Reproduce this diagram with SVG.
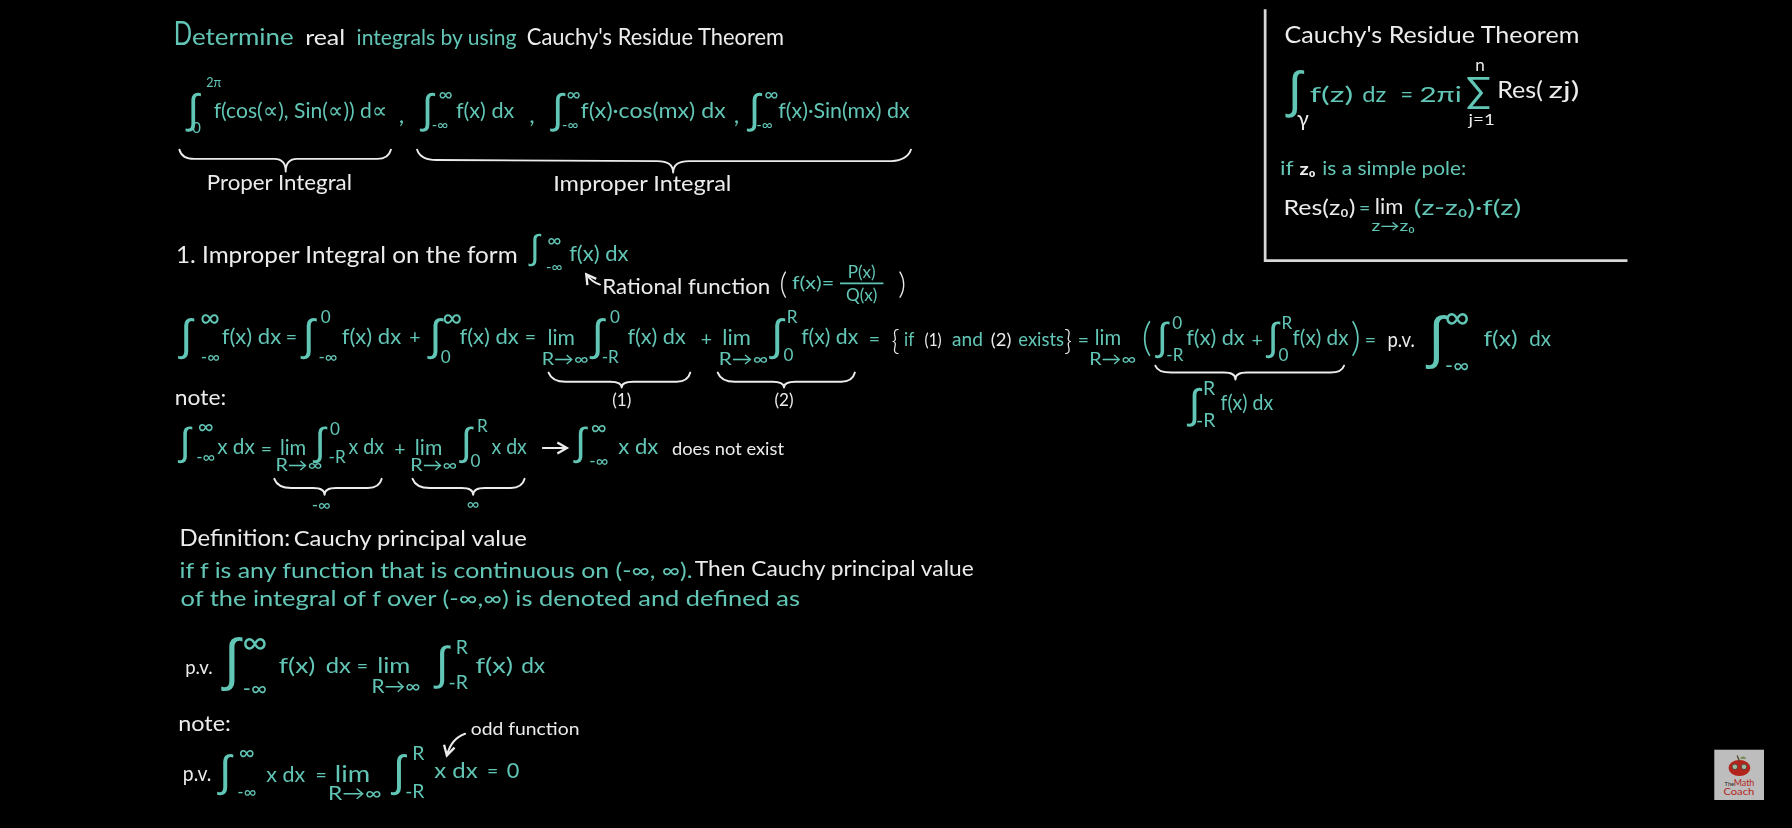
<svg xmlns="http://www.w3.org/2000/svg" width="1792" height="828" viewBox="0 0 1792 828">
<style>
text{font-family:"Lato","Liberation Sans",sans-serif;}
.t{fill:#62c6b6}.w{fill:#ececec}
.i{font-family:"Liberation Sans",sans-serif;text-anchor:middle;fill:#62c6b6}
.m{text-anchor:middle}
.z11{font-size:11px}.z13{font-size:13px}.z15{font-size:15px}.z17{font-size:17px}.z19{font-size:19px}.z21{font-size:21px}.z24{font-size:24px}
.b{fill:none;stroke:#ececec;stroke-width:1.7;stroke-linecap:round;stroke-linejoin:round}
</style>
<defs>
<filter id="soft" x="0" y="0" width="1" height="1"><feGaussianBlur stdDeviation="0.45"/></filter>
<marker id="ah" viewBox="0 0 10 10" refX="8" refY="5" markerWidth="7" markerHeight="7" orient="auto-start-reverse"><path d="M1 1L8 5L1 9" fill="none" stroke="#ececec" stroke-width="1.7"/></marker>
</defs>
<rect width="1792" height="828" fill="#000"/>
<g transform="scale(1.142857)" filter="url(#soft)">
<g id="connectors">
<path class="b" d="M157 131Q159 139 170 139L240 139Q250 139 250 150Q250 139 260 139L330 139Q340 139 342 131"/>
<path class="b" d="M365 131Q368 140 382 140L575 141Q589 141 589 151Q589 141 603 141L780 141Q794 140 797 131"/>
<path class="b" d="M480 326Q483 334 495 334L534 334Q544 334 544 339Q544 334 554 334L592 334Q602 334 604 326"/>
<path class="b" d="M628 326Q631 334 643 334L676 334Q686 334 686 339Q686 334 696 334L736 334Q746 334 748 326"/>
<path class="b" d="M1011 320Q1013 326 1025 326L1071 326Q1081 326 1081 332Q1081 326 1091 326L1164 326Q1174 326 1176 320"/>
<path class="b" d="M240 419Q243 427 255 427L274 427Q284 427 284 433Q284 427 294 427L322 427Q332 427 334 419"/>
<path class="b" d="M361 419Q364 427 376 427L404 427Q414 427 414 433Q414 427 424 427L447 427Q457 427 459 419"/>
<path class="b" d="M525 249Q518 247 513 240" marker-end="url(#ah)"/>
<path class="b" d="M407 642Q395 646 391 661" marker-end="url(#ah)"/>
<path class="b" d="M475 392L496 392" marker-end="url(#ah)"/>
<path d="M1107 8L1107 228L1424 228" fill="none" stroke="#d8d8d8" stroke-width="2.4"/>
</g>
<g id="title">
<text class="t" x="152" y="39" font-size="29" textLength="16" lengthAdjust="spacingAndGlyphs">D</text>
<text class="t z21" x="168" y="39" textLength="89" lengthAdjust="spacingAndGlyphs">etermine</text>
<text class="w z19" x="267" y="39" textLength="35" lengthAdjust="spacingAndGlyphs">real</text>
<text class="t z19" x="312" y="39" textLength="140" lengthAdjust="spacingAndGlyphs">integrals by using</text>
<text class="w z21" x="461" y="39" textLength="225" lengthAdjust="spacingAndGlyphs">Cauchy's Residue Theorem</text>
</g>
<g id="integral-list">
<text class="i" x="169" y="108" font-size="36">∫</text><text class="t z11 m" x="187" y="76">2π</text><text class="t z13 m" x="172" y="116">0</text>
<text class="t z19" x="187" y="103" textLength="152" lengthAdjust="spacingAndGlyphs">f(cos(∝), Sin(∝)) d∝</text>
<text class="t z21" x="349" y="108">,</text>
<text class="i" x="374" y="108" font-size="36">∫</text><text class="t z17 m" x="390" y="88">∞</text><text class="t z13 m" x="385" y="114">-∞</text>
<text class="t z19" x="399" y="103" textLength="51" lengthAdjust="spacingAndGlyphs">f(x) dx</text>
<text class="t z21" x="463" y="108">,</text>
<text class="i" x="488" y="108" font-size="36">∫</text><text class="t z17 m" x="502" y="88">∞</text><text class="t z13 m" x="499" y="114">-∞</text>
<text class="t z19" x="508" y="103" textLength="127" lengthAdjust="spacingAndGlyphs">f(x)·cos(mx) dx</text>
<text class="t z21" x="642" y="108">,</text>
<text class="i" x="660" y="108" font-size="36">∫</text><text class="t z17 m" x="675" y="88">∞</text><text class="t z13 m" x="669" y="114">-∞</text>
<text class="t z19" x="681" y="103" textLength="115" lengthAdjust="spacingAndGlyphs">f(x)·Sin(mx) dx</text>
<text class="w z19" x="181" y="166" textLength="127" lengthAdjust="spacingAndGlyphs">Proper Integral</text>
<text class="w z19" x="484" y="167" textLength="156" lengthAdjust="spacingAndGlyphs">Improper Integral</text>
</g>
<g id="theorem-box">
<text class="w" x="1124" y="38" font-size="21" textLength="258" lengthAdjust="spacingAndGlyphs">Cauchy's Residue Theorem</text>
<text class="i" x="1133" y="94" font-size="44">∫</text><text class="w z19 m" x="1140" y="110">γ</text>
<text class="t z19" x="1146" y="89" textLength="38" lengthAdjust="spacingAndGlyphs">f(z)</text>
<text class="t z19" x="1192" y="89" textLength="21" lengthAdjust="spacingAndGlyphs">dz</text>
<text class="t z19 m" x="1231" y="89">=</text>
<text class="t z19" x="1242" y="89" textLength="37" lengthAdjust="spacingAndGlyphs">2πi</text>
<text class="t m" x="1294" y="90" font-size="32">∑</text>
<text class="w z15 m" x="1295" y="62">n</text>
<text class="w z13" x="1285" y="109" textLength="23" lengthAdjust="spacingAndGlyphs">j=1</text>
<text class="w z21" x="1310" y="86" textLength="40" lengthAdjust="spacingAndGlyphs">Res(</text>
<text class="w z21" x="1355" y="86" textLength="27" lengthAdjust="spacingAndGlyphs">zj)</text>
<text class="t z17" x="1120" y="153" textLength="12" lengthAdjust="spacingAndGlyphs">if</text><text class="w z15" x="1137" y="153" font-weight="700" textLength="14" lengthAdjust="spacingAndGlyphs">z₀</text>
<text class="t z17" x="1157" y="153" textLength="126" lengthAdjust="spacingAndGlyphs">is a simple pole:</text>
<text class="w z19" x="1123" y="188" textLength="63" lengthAdjust="spacingAndGlyphs">Res(z₀)</text>
<text class="t z17 m" x="1194" y="188">=</text>
<text class="w z19" x="1203" y="187" textLength="25" lengthAdjust="spacingAndGlyphs">lim</text>
<text class="t z19" x="1237" y="188" textLength="94" lengthAdjust="spacingAndGlyphs">(z-z₀)·f(z)</text>
<text class="t z13" x="1200" y="202" textLength="38" lengthAdjust="spacingAndGlyphs">z→z₀</text>
</g>
<g id="section-1">
<text class="w z21" x="154" y="230" textLength="299" lengthAdjust="spacingAndGlyphs">1. Improper Integral on the form</text>
<text class="i" x="468" y="227" font-size="30">∫</text><text class="t z17 m" x="485" y="216">∞</text><text class="t z13 m" x="485" y="238">-∞</text>
<text class="t z19" x="498" y="228" textLength="52" lengthAdjust="spacingAndGlyphs">f(x) dx</text>
<text class="w z19" x="527" y="257" textLength="147" lengthAdjust="spacingAndGlyphs">Rational function</text>
<text class="w" x="682" y="257" font-size="26" font-weight="300">(</text>
<text class="t z15" x="693" y="253" textLength="37" lengthAdjust="spacingAndGlyphs">f(x)=</text>
<text class="t z15 m" x="754" y="243">P(x)</text>
<path d="M735 248L773 248" stroke="#62c6b6" stroke-width="1.6"/>
<text class="t z15 m" x="754" y="263">Q(x)</text>
<text class="w" x="786" y="257" font-size="26" font-weight="300">)</text>
</g>
<g id="expansion">
<text class="i" x="163" y="306" font-size="38">∫</text><text class="t z24 m" x="184" y="286">∞</text><text class="t z15 m" x="184" y="318">-∞</text>
<text class="t z19" x="194" y="301" textLength="52" lengthAdjust="spacingAndGlyphs">f(x) dx</text>
<text class="t z17" x="250" y="301">=</text>
<text class="i" x="270" y="306" font-size="38">∫</text><text class="t z15 m" x="285" y="283">0</text><text class="t z15 m" x="287" y="318">-∞</text>
<text class="t z19" x="299" y="301" textLength="52" lengthAdjust="spacingAndGlyphs">f(x) dx</text>
<text class="t z17 m" x="363" y="301">+</text>
<text class="i" x="381" y="306" font-size="38">∫</text><text class="t z24 m" x="396" y="286">∞</text><text class="t z15 m" x="390" y="318">0</text>
<text class="t z19" x="402" y="301" textLength="52" lengthAdjust="spacingAndGlyphs">f(x) dx</text>
<text class="t z17 m" x="464" y="301">=</text>
<text class="t z19" x="479" y="302" textLength="24" lengthAdjust="spacingAndGlyphs">lim</text>
<text class="t z15" x="474" y="319" textLength="41" lengthAdjust="spacingAndGlyphs">R→∞</text>
<text class="i" x="523" y="306" font-size="38">∫</text><text class="t z15 m" x="538" y="283">0</text><text class="t z15 m" x="534" y="318">-R</text>
<text class="t z19" x="549" y="301" textLength="51" lengthAdjust="spacingAndGlyphs">f(x) dx</text>
<text class="t z17 m" x="618" y="303">+</text>
<text class="t z19" x="632" y="302" textLength="25" lengthAdjust="spacingAndGlyphs">lim</text>
<text class="t z15" x="629" y="319" textLength="43" lengthAdjust="spacingAndGlyphs">R→∞</text>
<text class="i" x="680" y="306" font-size="38">∫</text><text class="t z15 m" x="693" y="283">R</text><text class="t z15 m" x="690" y="316">0</text>
<text class="t z19" x="701" y="301" textLength="50" lengthAdjust="spacingAndGlyphs">f(x) dx</text>
<text class="t z17 m" x="765" y="303">=</text>
<text class="w" x="780" y="306" font-size="24" font-weight="300">{</text>
<text class="t z17" x="791" y="303" textLength="9" lengthAdjust="spacingAndGlyphs">if</text>
<text class="w z15" x="809" y="303" textLength="15" lengthAdjust="spacingAndGlyphs">(1)</text>
<text class="t z17" x="833" y="303" textLength="27" lengthAdjust="spacingAndGlyphs">and</text>
<text class="w z15" x="867" y="303" textLength="18" lengthAdjust="spacingAndGlyphs">(2)</text>
<text class="t z17" x="891" y="303" textLength="40" lengthAdjust="spacingAndGlyphs">exists</text>
<text class="w" x="931" y="306" font-size="24" font-weight="300">}</text>
<text class="t z17 m" x="948" y="304">=</text>
<text class="t z19" x="958" y="302" textLength="23" lengthAdjust="spacingAndGlyphs">lim</text>
<text class="t z15" x="953" y="319" textLength="41" lengthAdjust="spacingAndGlyphs">R→∞</text>
<text class="t" x="999" y="307" font-size="34" font-weight="300">(</text>
<text class="i" x="1017" y="306" font-size="34">∫</text><text class="t z15 m" x="1030" y="288">0</text><text class="t z15 m" x="1028" y="316">-R</text>
<text class="t z19" x="1038" y="302" textLength="51" lengthAdjust="spacingAndGlyphs">f(x) dx</text>
<text class="t z17 m" x="1100" y="304">+</text>
<text class="i" x="1114" y="306" font-size="34">∫</text><text class="t z15 m" x="1126" y="288">R</text><text class="t z15 m" x="1123" y="316">0</text>
<text class="t z19" x="1131" y="302" textLength="49" lengthAdjust="spacingAndGlyphs">f(x) dx</text>
<text class="t" x="1182" y="307" font-size="34" font-weight="300">)</text>
<text class="t z17 m" x="1199" y="304">=</text>
<text class="w z19" x="1214" y="304" textLength="24" lengthAdjust="spacingAndGlyphs">p.v.</text>
<text class="i" x="1257" y="312" font-size="50">∫</text><text class="t" font-size="30" text-anchor="middle" x="1275" y="288">∞</text><text class="t z19 m" x="1275" y="326">-∞</text>
<text class="t z19" x="1298" y="303" textLength="30" lengthAdjust="spacingAndGlyphs">f(x)</text>
<text class="t z19" x="1338" y="303" textLength="19" lengthAdjust="spacingAndGlyphs">dx</text>
<text class="w z15 m" x="544" y="355">(1)</text>
<text class="w z15 m" x="686" y="355">(2)</text>
<text class="i" x="1045" y="366" font-size="36">∫</text><text class="t z17 m" x="1058" y="346">R</text><text class="t z17 m" x="1055" y="374">-R</text>
<text class="t z19" x="1068" y="359" textLength="46" lengthAdjust="spacingAndGlyphs">f(x) dx</text>
</g>
<g id="note-1">
<text class="w z19" x="153" y="354" textLength="45" lengthAdjust="spacingAndGlyphs">note:</text>
<text class="i" x="162" y="398" font-size="34">∫</text><text class="t z19 m" x="180" y="380">∞</text><text class="t z15 m" x="180" y="405">-∞</text>
<text class="t z19" x="190" y="397" textLength="33" lengthAdjust="spacingAndGlyphs">x dx</text>
<text class="t z17 m" x="233" y="399">=</text>
<text class="t z19" x="245" y="398" textLength="23" lengthAdjust="spacingAndGlyphs">lim</text>
<text class="t z15" x="241" y="412" textLength="41" lengthAdjust="spacingAndGlyphs">R→∞</text>
<text class="i" x="280" y="398" font-size="34">∫</text><text class="t z15 m" x="293" y="381">0</text><text class="t z15 m" x="295" y="405">-R</text>
<text class="t z19" x="305" y="397" textLength="31" lengthAdjust="spacingAndGlyphs">x dx</text>
<text class="t z17 m" x="350" y="399">+</text>
<text class="t z19" x="363" y="398" textLength="24" lengthAdjust="spacingAndGlyphs">lim</text>
<text class="t z15" x="359" y="412" textLength="41" lengthAdjust="spacingAndGlyphs">R→∞</text>
<text class="i" x="408" y="398" font-size="34">∫</text><text class="t z15 m" x="422" y="378">R</text><text class="t z15 m" x="416" y="409">0</text>
<text class="t z19" x="430" y="397" textLength="31" lengthAdjust="spacingAndGlyphs">x dx</text>
<text class="i" x="508" y="398" font-size="34">∫</text><text class="t z19 m" x="524" y="381">∞</text><text class="t z15 m" x="524" y="409">-∞</text>
<text class="t z19" x="541" y="397" textLength="35" lengthAdjust="spacingAndGlyphs">x dx</text>
<text class="w z15" x="588" y="398" textLength="98" lengthAdjust="spacingAndGlyphs">does not exist</text>
<text class="t z15 m" x="281" y="447">-∞</text>
<text class="t z15 m" x="414" y="446">∞</text>
</g>
<g id="definition">
<text class="w z21" x="157" y="478" textLength="97" lengthAdjust="spacingAndGlyphs">Definition:</text>
<text class="w z19" x="257" y="478" textLength="204" lengthAdjust="spacingAndGlyphs">Cauchy principal value</text>
<text class="t z19" x="157" y="506" textLength="449" lengthAdjust="spacingAndGlyphs">if f is any function that is continuous on (-∞, ∞).</text>
<text class="w z19" x="608" y="504" textLength="244" lengthAdjust="spacingAndGlyphs">Then Cauchy principal value</text>
<text class="t z19" x="158" y="530" textLength="542" lengthAdjust="spacingAndGlyphs">of the integral of f over (-∞,∞) is denoted and defined as</text>
<text class="w z17" x="162" y="590" textLength="24" lengthAdjust="spacingAndGlyphs">p.v.</text>
<text class="i" x="203" y="594" font-size="50">∫</text><text class="t" font-size="30" text-anchor="middle" x="223" y="572">∞</text><text class="t z19 m" x="223" y="609">-∞</text>
<text class="t z19" x="244" y="589" textLength="32" lengthAdjust="spacingAndGlyphs">f(x)</text>
<text class="t z19" x="285" y="589" textLength="22" lengthAdjust="spacingAndGlyphs">dx</text>
<text class="t z17 m" x="317" y="589">=</text>
<text class="t z19" x="330" y="589" textLength="29" lengthAdjust="spacingAndGlyphs">lim</text>
<text class="t z17" x="325" y="606" textLength="43" lengthAdjust="spacingAndGlyphs">R→∞</text>
<text class="i" x="387" y="594" font-size="40">∫</text><text class="t z17 m" x="404" y="572">R</text><text class="t z17 m" x="401" y="603">-R</text>
<text class="t z19" x="416" y="589" textLength="33" lengthAdjust="spacingAndGlyphs">f(x)</text>
<text class="t z19" x="456" y="589" textLength="21" lengthAdjust="spacingAndGlyphs">dx</text>
</g>
<g id="note-2">
<text class="w z19" x="156" y="640" textLength="46" lengthAdjust="spacingAndGlyphs">note:</text>
<text class="w z19" x="160" y="683" textLength="25" lengthAdjust="spacingAndGlyphs">p.v.</text>
<text class="i" x="197" y="688" font-size="38">∫</text><text class="t z19 m" x="216" y="665">∞</text><text class="t z15 m" x="216" y="698">-∞</text>
<text class="t z19" x="233" y="684" textLength="34" lengthAdjust="spacingAndGlyphs">x dx</text>
<text class="t z17 m" x="281" y="684">=</text>
<text class="t z21" x="293" y="684" textLength="31" lengthAdjust="spacingAndGlyphs">lim</text>
<text class="t z17" x="287" y="700" textLength="47" lengthAdjust="spacingAndGlyphs">R→∞</text>
<text class="i" x="349" y="688" font-size="38">∫</text><text class="t z17 m" x="366" y="665">R</text><text class="t z17 m" x="363" y="698">-R</text>
<text class="t z19" x="380" y="681" textLength="38" lengthAdjust="spacingAndGlyphs">x dx</text>
<text class="t z17 m" x="431" y="681">=</text>
<text class="t z19 m" x="449" y="681">0</text>
<text class="w z15" x="412" y="643" textLength="95" lengthAdjust="spacingAndGlyphs">odd function</text>
</g>
</g>
<g id="logo" transform="scale(1.142857)">
<rect x="1500" y="656" width="43.5" height="44" fill="#bdbdbd"/>
<ellipse cx="1522" cy="672" rx="9.5" ry="7" fill="#b3241c"/>
<path d="M1522 666L1520 661" stroke="#5a4a30" stroke-width="1.2"/>
<path d="M1522 664Q1526 660 1528 664Z" fill="#6c8a4a"/>
<circle cx="1518" cy="671" r="2.4" fill="#9fb89a" stroke="#333" stroke-width="0.6"/>
<circle cx="1526" cy="671" r="2.4" fill="#9fb89a" stroke="#333" stroke-width="0.6"/>
<text x="1509" y="688" font-size="5" fill="#222">The</text>
<text x="1517" y="688" font-size="8.5" fill="#b3241c" textLength="18" lengthAdjust="spacingAndGlyphs">Math</text>
<text x="1508" y="696" font-size="8.5" fill="#b3241c" textLength="27" lengthAdjust="spacingAndGlyphs">Coach</text>
</g>
</svg>
